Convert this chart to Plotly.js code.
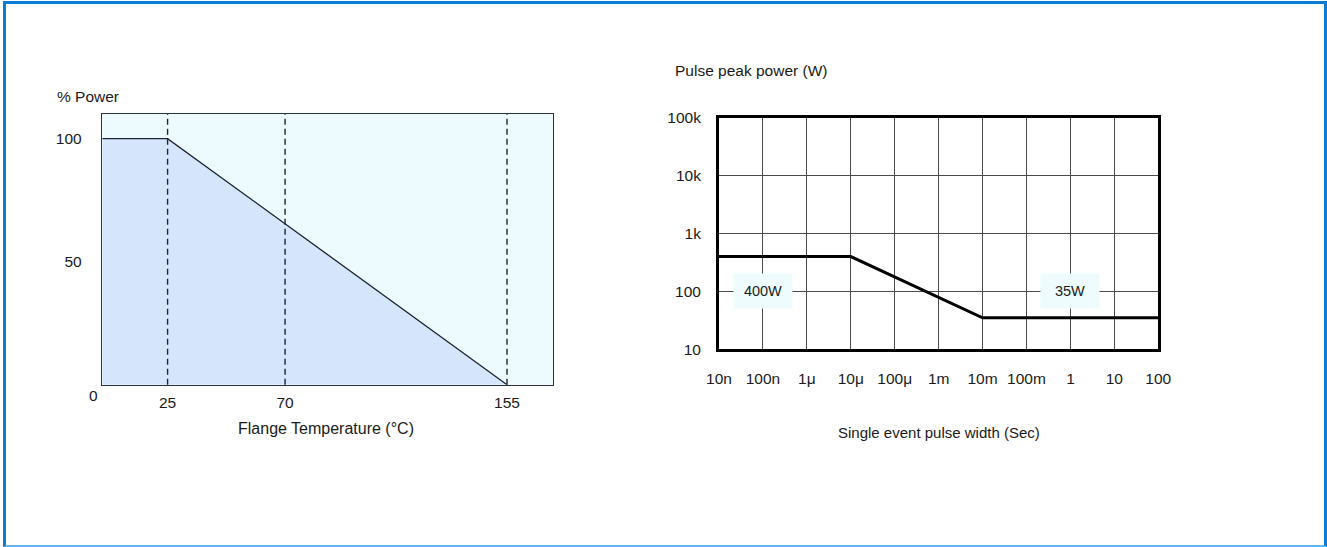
<!DOCTYPE html>
<html>
<head>
<meta charset="utf-8">
<script src="https://cdn.plot.ly/plotly-3.0.1.min.js"></script>
<style>
  html, body { margin: 0; padding: 0; background: #fff; }
  #wrap { position: relative; width: 1327px; height: 547px; overflow: hidden; }
  #chart { position: absolute; left: 0; top: 0; width: 1327px; height: 547px; }
  #frame { position: absolute; left: 3px; top: 1px; right: 0px; bottom: 0px;
           border-top: 3px solid #0b7bd3; border-left: 3px solid #0b7bd3;
           border-right: 3px solid #0b7bd3; border-bottom: 2px solid #62b2ec;
           pointer-events: none; box-sizing: border-box; }
</style>
</head>
<body>
<div id="wrap"><div id="chart"></div><div id="frame"></div></div>
<script>
// ---- Left chart: power derating vs flange temperature ----
const derateTemp = [0, 25, 155];
const deratePower = [100, 100, 0];
const tempTickVals = [25, 70, 155];
const tempTickText = ['25', '70', '155'];
const powerTickVals = [50, 100];
const powerTickText = ['50', '100'];
const tempGuides = [25, 70, 155];

// ---- Right chart: pulse peak power vs single event pulse width ----
const pulseWidth = [1e-8, 1e-5, 1e-2, 100];
const pulsePower = [400, 400, 35, 35];
const widthTickVals = [1e-8, 1e-7, 1e-6, 1e-5, 1e-4, 1e-3, 1e-2, 1e-1, 1, 10, 100];
const widthTickText = ['10n', '100n', '1\u03bc', '10\u03bc', '100\u03bc', '1m', '10m', '100m', '1', '10', '100'];
const peakTickVals = [10, 100, 1000, 10000, 100000];
const peakTickText = ['10', '100', '1k', '10k', '100k'];
const pulseLabels = ['400W', '35W'];
const pulseLabelX = [1e-7, 1];
const pulseLabelY = [100, 100];

const W = 1327, H = 547;
const FONT = 'Liberation Sans, Arial, sans-serif';
const TXT = '#1a1a1a';

const traces = [
  {
    x: derateTemp, y: deratePower, type: 'scatter', mode: 'lines',
    fill: 'tozeroy', fillcolor: '#d5e5fb',
    line: { color: '#1c2233', width: 1.3 },
    xaxis: 'x', yaxis: 'y', hoverinfo: 'skip', showlegend: false
  },
  {
    x: pulseWidth, y: pulsePower, type: 'scatter', mode: 'lines',
    line: { color: '#000', width: 3 },
    xaxis: 'x2', yaxis: 'y2', hoverinfo: 'skip', showlegend: false
  }
];

const shapes = [
  { type: 'rect', xref: 'x domain', yref: 'y domain', x0: 0, x1: 1, y0: 0, y1: 1,
    fillcolor: '#eefbfe', line: { width: 0 }, layer: 'below' }
];
tempGuides.forEach(t => shapes.push({
  type: 'line', xref: 'x', yref: 'y domain', x0: t, x1: t, y0: 0, y1: 1,
  line: { color: '#1f2430', width: 1.4, dash: '6px,4px' }, layer: 'above'
}));

const annotations = [
  { text: '% Power', xref: 'paper', yref: 'paper', x: 55 / W, y: 1 - 96 / H,
    xanchor: 'left', yanchor: 'middle', showarrow: false, font: { size: 15.5, color: TXT, family: FONT } },
  { text: 'Flange Temperature (\u00b0C)', xref: 'paper', yref: 'paper', x: 326 / W, y: 1 - 428 / H,
    xanchor: 'center', yanchor: 'middle', showarrow: false, font: { size: 16, color: TXT, family: FONT } },
  { text: '0', xref: 'x', yref: 'y', x: 0, y: 0, xshift: -9, yshift: -11,
    xanchor: 'center', yanchor: 'middle', showarrow: false, font: { size: 15.5, color: TXT, family: FONT } },
  { text: 'Pulse peak power (W)', xref: 'paper', yref: 'paper', x: 673 / W, y: 1 - 70 / H,
    xanchor: 'left', yanchor: 'middle', showarrow: false, font: { size: 15.5, color: TXT, family: FONT } },
  { text: 'Single event pulse width (Sec)', xref: 'paper', yref: 'paper', x: 938.5 / W, y: 1 - 432 / H,
    xanchor: 'center', yanchor: 'middle', showarrow: false, font: { size: 15, color: TXT, family: FONT } }
];
pulseLabels.forEach((lab, i) => annotations.push({
  text: lab, xref: 'x2', yref: 'y2', x: Math.log10(pulseLabelX[i]), y: Math.log10(pulseLabelY[i]),
  xanchor: 'center', yanchor: 'middle', showarrow: false,
  width: 58, height: 34, bgcolor: '#eefcfe', borderpad: 0,
  font: { size: 14.5, color: TXT, family: FONT }
}));

const layout = {
  width: W, height: H,
  margin: { l: 0, r: 0, t: 0, b: 0 },
  paper_bgcolor: '#ffffff', plot_bgcolor: 'rgba(0,0,0,0)',
  font: { family: FONT, size: 15.5, color: TXT },
  showlegend: false,
  xaxis: {
    domain: [102.3 / W, 552.7 / W], range: [0, 172.5], anchor: 'y',
    tickvals: tempTickVals, ticktext: tempTickText, ticks: '', showgrid: false, zeroline: false,
    showline: true, mirror: true, linecolor: '#2b3140', linewidth: 1.5,
    ticklabelstandoff: 3, fixedrange: true
  },
  yaxis: {
    domain: [1 - 384.7 / H, 1 - 114 / H], range: [0, 110], anchor: 'x',
    tickvals: powerTickVals, ticktext: powerTickText, ticks: '', showgrid: false, zeroline: false,
    showline: true, mirror: true, linecolor: '#2b3140', linewidth: 1.5,
    ticklabelstandoff: 16, fixedrange: true
  },
  xaxis2: {
    domain: [719 / W, 1158.3 / W], type: 'log', range: [-8, 2], anchor: 'y2',
    tickvals: widthTickVals, ticktext: widthTickText, ticks: '',
    showgrid: true, gridcolor: '#4a4a4a', gridwidth: 1, zeroline: false,
    showline: true, mirror: true, linecolor: '#000', linewidth: 3,
    ticklabelstandoff: 13, fixedrange: true
  },
  yaxis2: {
    domain: [1 - 349.3 / H, 1 - 117.7 / H], type: 'log', range: [1, 5], anchor: 'x2',
    tickvals: peakTickVals, ticktext: peakTickText, ticks: '',
    showgrid: true, gridcolor: '#4a4a4a', gridwidth: 1, zeroline: false,
    showline: true, mirror: true, linecolor: '#000', linewidth: 3,
    ticklabelstandoff: 12, fixedrange: true
  },
  shapes: shapes,
  annotations: annotations
};

Plotly.newPlot('chart', traces, layout, { displayModeBar: false, staticPlot: true });
</script>
</body>
</html>
